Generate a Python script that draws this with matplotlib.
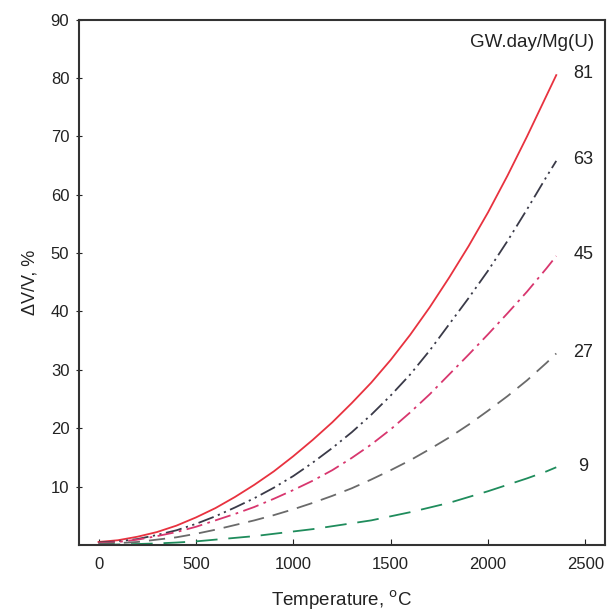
import numpy as np
import matplotlib.pyplot as plt

plt.rcParams['font.family'] = ['Liberation Sans', 'DejaVu Sans']

# temperature grid (deg C) and swelling values
temp = [0, 100, 200, 300, 400, 500, 600, 700, 800, 900, 1000, 1100, 1200,
        1300, 1400, 1500, 1600, 1700, 1800, 1900, 2000, 2100, 2200, 2300, 2350]
dv_81 = [0.5, 0.8, 1.4, 2.2, 3.3, 4.7, 6.3, 8.2, 10.3, 12.6, 15.2, 18.0, 21.0,
         24.3, 27.8, 31.7, 36.0, 40.7, 45.8, 51.2, 57.0, 63.3, 70.0, 77.0, 80.5]
dv_63 = [0.4, 0.6, 1.0, 1.7, 2.5, 3.6, 4.9, 6.4, 8.0, 9.8, 11.8, 14.1, 16.6,
         19.3, 22.3, 25.6, 29.2, 33.3, 37.8, 42.3, 47.0, 52.1, 57.5, 63.1, 65.8]
dv_45 = [0.3, 0.5, 0.9, 1.5, 2.2, 3.1, 4.2, 5.3, 6.5, 7.9, 9.4, 11.0, 12.8,
         14.9, 17.2, 19.8, 22.7, 25.8, 29.2, 32.6, 36.1, 39.7, 43.4, 47.4, 49.5]
dv_27 = [0.2, 0.3, 0.5, 0.9, 1.3, 1.9, 2.6, 3.4, 4.2, 5.1, 6.1, 7.2, 8.4,
         9.7, 11.2, 12.8, 14.5, 16.4, 18.4, 20.6, 23.0, 25.5, 28.2, 31.2, 32.8]
dv_9 = [0.0, 0.07, 0.15, 0.25, 0.4, 0.6, 0.9, 1.2, 1.5, 1.9, 2.3, 2.7, 3.2,
        3.7, 4.2, 4.9, 5.6, 6.4, 7.2, 8.2, 9.2, 10.3, 11.4, 12.6, 13.3]

burnups = ['81', '63', '45', '27', '9']
series = [dv_81, dv_63, dv_45, dv_27, dv_9]
colors = ['#e8323f', '#3a3a48', '#d8366e', '#6a6a6a', '#1f8c5c']
dashes = [None, (9, 2.5, 1.2, 2.5, 1.2, 2.5), (9, 3, 1.5, 3), (9, 5), (12, 6)]

fig = plt.figure(figsize=(6.08, 6.15), dpi=100)
ax = fig.add_axes([0.130, 0.114, 0.865, 0.854])

for y, c, d, lab in zip(series, colors, dashes, burnups):
  line, = ax.plot(temp, y, color=c, lw=1.3)
  if d is not None:
    line.set_dashes(d)
  ax.text(2490, y[-1] + 0.2, lab, ha='center', va='center', fontsize=13, color='#222222')

ax.text(2545, 86.1, 'GW.day/Mg(U)', ha='right', va='center', fontsize=13.5, color='#222222')

ax.set_xlim(-100, 2600)
ax.set_ylim(0, 90)
ax.set_xticks([0, 500, 1000, 1500, 2000, 2500])
ax.set_yticks([10, 20, 30, 40, 50, 60, 70, 80, 90])
ax.tick_params(axis='x', direction='in', length=4, labelsize=12, pad=9, colors='#222222')
ax.tick_params(axis='y', direction='inout', length=4, labelsize=12, pad=5, colors='#222222')
for s in ax.spines.values():
  s.set_linewidth(1.5)
  s.set_color('#333333')

ax.set_xlabel('Temperature, $^{\\rm o}$C', fontsize=13.5, labelpad=12, color='#222222')
ax.set_ylabel('\u0394V/V, %', fontsize=13, labelpad=9, color='#222222')

fig.savefig('out.png', dpi=100)
